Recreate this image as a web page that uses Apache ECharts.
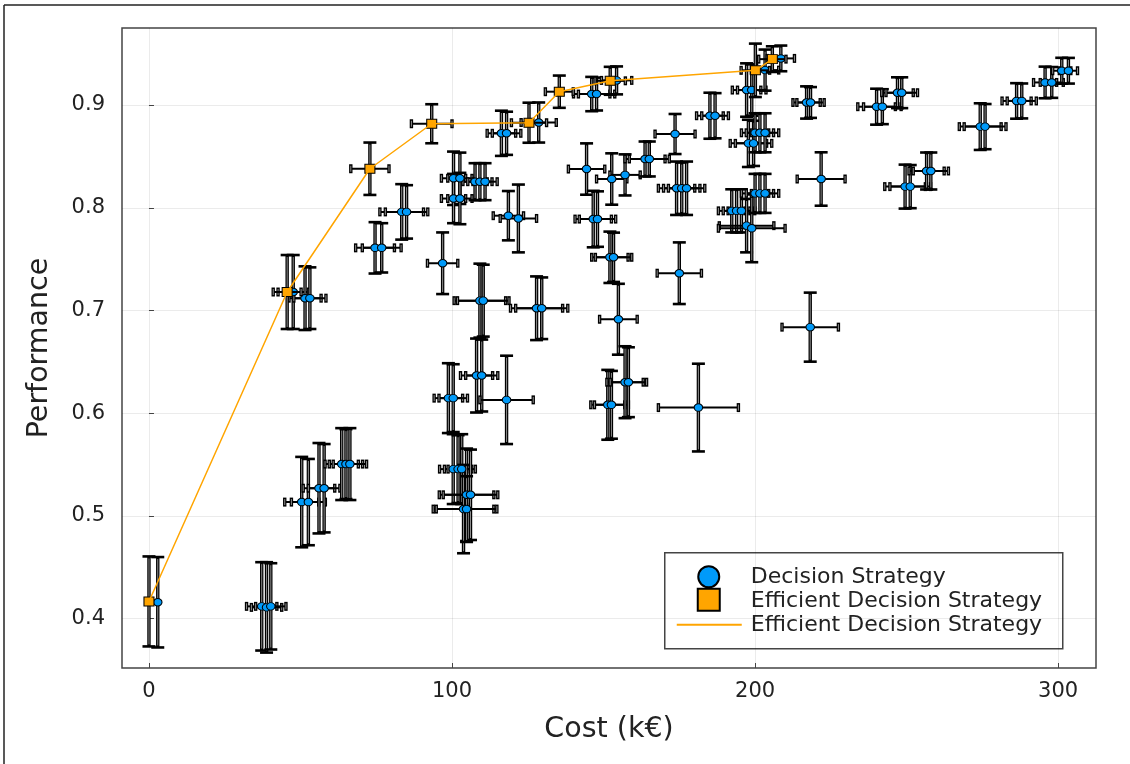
<!DOCTYPE html>
<html>
<head>
<meta charset="utf-8">
<script src="https://cdn.jsdelivr.net/npm/echarts@6/dist/echarts.min.js"></script>
<style>
  html, body { margin: 0; padding: 0; background: #fff; }
  #chart { width: 1130px; height: 764px; }
</style>
</head>
<body>
<div id="chart"></div>
<script>
// Decision strategies: cost (k€), performance, and their uncertainties
const strategyCost = [
  2.9, 37.2, 38.8, 40.2, 47.6, 51.5, 53.1, 50.4, 52.6, 56.1,
  57.8, 63.6, 65.0, 66.3, 74.6, 76.8, 83.4, 85.0, 96.9, 98.8,
  100.4, 100.4, 102.0, 103.2, 104.8, 106.1, 103.8, 104.8, 100.5, 102.6,
  100.5, 102.6, 107.6, 109.2, 110.9, 109.2, 110.3, 108.1, 109.8, 118.0,
  116.3, 118.0, 118.6, 121.9, 127.9, 129.6, 128.6, 144.4, 146.1, 147.7,
  146.6, 148.0, 152.1, 153.3, 152.7, 157.1, 154.3, 154.9, 151.4, 152.6,
  157.1, 158.2, 163.7, 165.1, 173.6, 174.1, 175.8, 177.4, 175.0, 181.3,
  185.1, 186.8, 192.3, 193.9, 195.5, 197.2, 198.9, 197.2, 198.9, 197.8,
  199.5, 200.0, 201.6, 203.3, 200.0, 201.6, 203.3, 203.3, 208.5, 217.0,
  218.3, 218.2, 221.8, 240.1, 242.0, 247.0, 248.4, 249.5, 251.2, 256.6,
  258.0, 274.3, 275.9, 286.3, 288.0, 295.7, 297.9, 301.2, 303.4
];
const strategyPerf = [
  0.416, 0.412, 0.411, 0.412, 0.718, 0.712, 0.712, 0.5135, 0.5135, 0.527,
  0.527, 0.5505, 0.5505, 0.5505, 0.761, 0.761, 0.796, 0.796, 0.746, 0.6147,
  0.6147, 0.5456, 0.5456, 0.5456, 0.5206, 0.5206, 0.5067, 0.5067, 0.8287, 0.8287,
  0.809, 0.809, 0.8254, 0.8254, 0.8254, 0.7096, 0.7096, 0.6367, 0.6367, 0.613,
  0.8725, 0.8725, 0.7923, 0.7896, 0.7022, 0.7022, 0.883, 0.8377, 0.9107, 0.9107,
  0.789, 0.789, 0.7518, 0.7518, 0.828, 0.832, 0.924, 0.6915, 0.6082, 0.6082,
  0.6302, 0.6302, 0.8475, 0.8475, 0.8718, 0.819, 0.819, 0.819, 0.7363, 0.6055,
  0.8896, 0.8896, 0.797, 0.797, 0.797, 0.7826, 0.780, 0.9146, 0.9146, 0.8627,
  0.8627, 0.873, 0.873, 0.873, 0.814, 0.814, 0.814, 0.934, 0.9454, 0.9025,
  0.9025, 0.6838, 0.828, 0.8984, 0.8984, 0.912, 0.912, 0.8206, 0.8206, 0.8358,
  0.8358, 0.879, 0.879, 0.904, 0.904, 0.922, 0.922, 0.9334, 0.9334
];
const strategyCostErr = [
  0, 5, 5, 5, 5, 5.3, 5.3, 5.6, 5.6, 5.2,
  5.2, 5.5, 5.5, 5.5, 6.4, 6.4, 7.2, 7.0, 5, 4.7,
  4.7, 4.5, 4.5, 4.5, 9, 9, 10, 10, 4, 4,
  4, 4, 4, 4, 4, 8.5, 8.5, 5.3, 5.3, 8.8,
  4.7, 4.7, 5, 6, 8.6, 8.6, 5.8, 6, 6, 6,
  6, 6, 6, 6, 5, 5, 5, 6.2, 5.6, 5.6,
  6, 6, 6.6, 6.6, 6.6, 6, 6, 6, 7.3, 13.2,
  4.4, 4.4, 4.4, 4.4, 4.4, 9, 11, 4.7, 4.7, 6,
  6, 4.5, 4.5, 4.5, 4.5, 4.5, 4.5, 4.5, 4.5, 4.5,
  4.5, 9.3, 7.9, 6.2, 6.2, 5.2, 5.2, 6.7, 6.7, 5.8,
  5.8, 6.9, 6.9, 4.8, 4.8, 3.8, 3.8, 3, 3
];
const strategyPerfErr = [
  0.044, 0.043, 0.044, 0.042, 0.036, 0.031, 0.030, 0.044, 0.042, 0.044,
  0.043, 0.035, 0.034, 0.035, 0.025, 0.024, 0.027, 0.026, 0.030, 0.034,
  0.033, 0.034, 0.033, 0.034, 0.045, 0.044, 0.043, 0.032, 0.026, 0.025,
  0.024, 0.025, 0.018, 0.018, 0.018, 0.036, 0.035, 0.036, 0.035, 0.043,
  0.022, 0.021, 0.024, 0.033, 0.031, 0.030, 0.0195, 0.025, 0.0167, 0.016,
  0.0275, 0.027, 0.025, 0.024, 0.025, 0.020, 0.0136, 0.0345, 0.034, 0.033,
  0.035, 0.034, 0.017, 0.017, 0.0195, 0.026, 0.025, 0.026, 0.030, 0.0427,
  0.0224, 0.022, 0.021, 0.021, 0.021, 0.026, 0.033, 0.026, 0.025, 0.023,
  0.022, 0.019, 0.019, 0.019, 0.019, 0.019, 0.019, 0.020, 0.0125, 0.0157,
  0.015, 0.0336, 0.026, 0.0175, 0.017, 0.015, 0.015, 0.0214, 0.021, 0.018,
  0.018, 0.0227, 0.022, 0.0173, 0.017, 0.0154, 0.015, 0.0126, 0.0125
];

// Efficient frontier strategies
const efficientCost = [0, 45.6, 72.9, 93.3, 125.4, 135.4, 152.2, 200.1, 205.7];
const efficientPerf = [0.4168, 0.718, 0.838, 0.8818, 0.8828, 0.913, 0.9236, 0.9338, 0.9447];
const efficientCostErr = [0, 4.6, 6.3, 6.7, 5.8, 4.6, 5, 4.7, 4.5];
const efficientPerfErr = [0.0438, 0.036, 0.0255, 0.019, 0.0195, 0.0157, 0.0136, 0.026, 0.0125];

// Axis ticks
const costTicks = [0, 100, 200, 300];
const perfTicks = [0.4, 0.5, 0.6, 0.7, 0.8, 0.9];

const FONT = 'DejaVu Sans';
const BLUE = '#009AF9';
const ORANGE = '#FFA500';

const strategyData = strategyCost.map((c, i) => [c, strategyPerf[i], strategyCostErr[i], strategyPerfErr[i]]);
const efficientData = efficientCost.map((c, i) => [c, efficientPerf[i], efficientCostErr[i], efficientPerfErr[i]]);

// Draws vertical and horizontal error bars with caps around each point
function errorBars(params, api) {
  const x = api.value(0), y = api.value(1), ex = api.value(2), ey = api.value(3);
  const children = [];
  const top = api.coord([x, y + ey]);
  const bot = api.coord([x, y - ey]);
  children.push({ type: 'line', shape: { x1: top[0], y1: top[1], x2: bot[0], y2: bot[1] },
    style: { stroke: '#000', lineWidth: 3.4 } });
  children.push({ type: 'line', shape: { x1: top[0], y1: top[1] + 2, x2: bot[0], y2: bot[1] - 2 },
    style: { stroke: '#8c8c8c', lineWidth: 1 } });
  [top, bot].forEach(p => {
    children.push({ type: 'line', shape: { x1: p[0] - 6.5, y1: p[1], x2: p[0] + 6.5, y2: p[1] },
      style: { stroke: '#000', lineWidth: 2.6 } });
  });
  if (ex > 0) {
    const l = api.coord([x - ex, y]);
    const r = api.coord([x + ex, y]);
    children.push({ type: 'line', shape: { x1: l[0], y1: l[1], x2: r[0], y2: r[1] },
      style: { stroke: '#000', lineWidth: 2 } });
    [l, r].forEach(p => {
      children.push({ type: 'line', shape: { x1: p[0], y1: p[1] - 4.5, x2: p[0], y2: p[1] + 4.5 },
        style: { stroke: '#000', lineWidth: 3.4 } });
      children.push({ type: 'line', shape: { x1: p[0], y1: p[1] - 3, x2: p[0], y2: p[1] + 3 },
        style: { stroke: '#8c8c8c', lineWidth: 1 } });
    });
  }
  return { type: 'group', children };
}

const chart = echarts.init(document.getElementById('chart'), null, { renderer: 'canvas' });

const legendX = 664, legendY = 552;

chart.setOption({
  animation: false,
  backgroundColor: '#fff',
  grid: {
    left: 122, top: 28, width: 974, height: 640,
    show: true, borderColor: '#444', borderWidth: 1.5, backgroundColor: 'transparent'
  },
  xAxis: {
    type: 'value', min: -8.9, max: 312.5,
    name: 'Cost (k€)', nameLocation: 'middle', nameGap: 47,
    nameTextStyle: { fontFamily: FONT, fontSize: 28.5, color: '#222' },
    axisLine: { show: false },
    axisTick: { show: true, inside: true, length: 5, customValues: costTicks, lineStyle: { color: '#444', width: 1 } },
    axisLabel: { customValues: costTicks, fontFamily: FONT, fontSize: 21, color: '#222', margin: 13 },
    splitLine: { show: true, lineStyle: { color: 'rgba(0,0,0,0.08)', width: 1 } }
  },
  yAxis: {
    type: 'value', min: 0.352, max: 0.975,
    name: 'Performance', nameLocation: 'middle', nameGap: 68, nameRotate: 90,
    nameTextStyle: { fontFamily: FONT, fontSize: 28.5, color: '#222' },
    axisLine: { show: false },
    axisTick: { show: true, inside: true, length: 5, customValues: perfTicks, lineStyle: { color: '#444', width: 1 } },
    axisLabel: { customValues: perfTicks, fontFamily: FONT, fontSize: 21, color: '#222', margin: 17,
      formatter: v => v.toFixed(1) },
    splitLine: { show: true, lineStyle: { color: 'rgba(0,0,0,0.08)', width: 1 } }
  },
  series: [
    {
      type: 'custom', name: 'Decision Strategy errors', renderItem: errorBars,
      data: strategyData, clip: true, z: 2, silent: true
    },
    {
      type: 'scatter', name: 'Decision Strategy',
      data: strategyData.map(d => [d[0], d[1]]),
      symbol: 'circle', symbolSize: [8.5, 7.5],
      itemStyle: { color: BLUE, borderColor: '#000', borderWidth: 1, opacity: 1 },
      z: 3
    },
    {
      type: 'custom', name: 'Efficient errors', renderItem: errorBars,
      data: efficientData, clip: true, z: 4, silent: true
    },
    {
      type: 'scatter', name: 'Efficient Decision Strategy',
      data: efficientData.map(d => [d[0], d[1]]),
      symbol: 'rect', symbolSize: [10, 9],
      itemStyle: { color: ORANGE, borderColor: '#000', borderWidth: 1, opacity: 1 },
      z: 5
    },
    {
      type: 'line', name: 'Efficient Decision Strategy line',
      data: efficientData.map(d => [d[0], d[1]]),
      showSymbol: false, symbol: 'none',
      lineStyle: { color: ORANGE, width: 1.5 },
      z: 6
    }
  ],
  graphic: [
    // outer frame (top and left edges)
    { type: 'line', shape: { x1: 4, y1: 5, x2: 1130, y2: 5 }, style: { stroke: '#222', lineWidth: 1.5 }, z: 100 },
    { type: 'line', shape: { x1: 4, y1: 5, x2: 4, y2: 764 }, style: { stroke: '#222', lineWidth: 1.5 }, z: 100 },
    // legend
    {
      type: 'group', left: legendX, top: legendY, z: 100,
      children: [
        { type: 'rect', shape: { x: 0, y: 0, width: 398, height: 96 },
          style: { fill: '#fff', stroke: '#444', lineWidth: 1.5 } },
        { type: 'circle', shape: { cx: 44, cy: 24, r: 10.5 },
          style: { fill: BLUE, stroke: '#000', lineWidth: 2 } },
        { type: 'rect', shape: { x: 33, y: 36, width: 22, height: 22 },
          style: { fill: ORANGE, stroke: '#000', lineWidth: 2 } },
        { type: 'line', shape: { x1: 12, y1: 72, x2: 77, y2: 72 },
          style: { stroke: ORANGE, lineWidth: 2 } },
        { type: 'text', x: 86, y: 25, style: { text: 'Decision Strategy', fontFamily: FONT, fontSize: 22,
          fill: '#222', verticalAlign: 'middle' } },
        { type: 'text', x: 86, y: 48.5, style: { text: 'Efficient Decision Strategy', fontFamily: FONT, fontSize: 22,
          fill: '#222', verticalAlign: 'middle' } },
        { type: 'text', x: 86, y: 72.5, style: { text: 'Efficient Decision Strategy', fontFamily: FONT, fontSize: 22,
          fill: '#222', verticalAlign: 'middle' } }
      ]
    }
  ]
});
</script>
</body>
</html>
